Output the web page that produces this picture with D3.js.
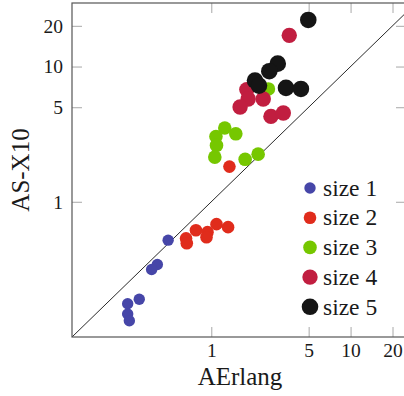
<!DOCTYPE html>
<html>
<head>
<meta charset="utf-8">
<script src="https://cdn.jsdelivr.net/npm/d3@7"></script>
<style>
  body { margin: 0; background: #fff; }
  text { font-family: 'Liberation Serif', serif; fill: #1a1a1a; }
</style>
</head>
<body>
<script>
// series names, colours and tick values
var seriesNames = ["size 1", "size 2", "size 3", "size 4", "size 5"];
var seriesColors = ["#4646a8", "#e02c1c", "#76c700", "#c11e40", "#151515"];
var seriesRadius = [5.7, 6.3, 6.8, 7.7, 8.3];
var xTicks = [1, 5, 10, 20];
var yTicks = [1, 5, 10, 20];

// points (AErlang, AS-X10)
var size1X = [0.49, 0.41, 0.373, 0.304, 0.251, 0.251, 0.258];
var size1Y = [0.52, 0.344, 0.316, 0.19, 0.176, 0.148, 0.132];
var size2X = [0.659, 0.667, 0.776, 0.939, 0.924, 1.09, 1.32, 1.35];
var size2Y = [0.536, 0.494, 0.616, 0.596, 0.547, 0.683, 0.649, 1.82];
var size3X = [1.25, 1.5, 1.08, 1.09, 1.06, 1.75, 2.17, 2.57];
var size3Y = [3.51, 3.18, 3.04, 2.61, 2.14, 2.06, 2.25, 6.83];
var size4X = [3.63, 1.8, 1.84, 1.61, 2.36, 2.68, 3.29];
var size4Y = [17.0, 6.75, 5.75, 5.02, 5.75, 4.28, 4.53];
var size5X = [4.97, 3.0, 2.61, 2.06, 2.2, 3.44, 4.4];
var size5Y = [22.1, 10.5, 9.23, 7.87, 7.23, 6.95, 6.83];

var seriesX = [size1X, size2X, size3X, size4X, size5X];
var seriesY = [size1Y, size2Y, size3Y, size4Y, size5Y];

var W = 404, H = 396;
var plot = {left: 72, right: 406, top: 3, bottom: 337};

var svg = d3.select("body")
  .append("svg")
  .attr("width", W)
  .attr("height", H);

var x = d3.scaleLog().domain([0.1, 25]).range([plot.left, plot.right]);
var y = d3.scaleLog().domain([0.1, 29.5]).range([plot.bottom, plot.top]);

svg.append("clipPath")
  .attr("id", "clip")
  .append("rect")
  .attr("x", plot.left)
  .attr("y", plot.top)
  .attr("width", plot.right - plot.left)
  .attr("height", plot.bottom - plot.top);

// axes, ticks point inwards
function styleAxis(g) {
  g.attr("font-family", "'Liberation Serif', serif");
  g.select(".domain").remove();
  g.selectAll(".tick line").attr("stroke", "#a8a8a8").attr("stroke-width", 1);
  g.selectAll(".tick text")
    .style("font-family", "'Liberation Serif', serif")
    .style("font-size", "19.5px")
    .attr("fill", "#1a1a1a");
}

svg.append("g")
  .attr("transform", "translate(0," + plot.bottom + ")")
  .call(d3.axisBottom(x).tickValues(xTicks).tickSize(-10).tickPadding(6).tickFormat(d3.format("d")))
  .call(styleAxis);

svg.append("g")
  .attr("transform", "translate(0," + plot.top + ")")
  .call(d3.axisTop(x).tickValues(xTicks).tickSize(-10).tickFormat(""))
  .call(styleAxis);

svg.append("g")
  .attr("transform", "translate(" + plot.left + ",0)")
  .call(d3.axisLeft(y).tickValues(yTicks).tickSize(-10).tickPadding(9).tickFormat(d3.format("d")))
  .call(styleAxis);

svg.append("g")
  .attr("transform", "translate(" + plot.right + ",0)")
  .call(d3.axisRight(y).tickValues(yTicks).tickSize(-10).tickFormat(""))
  .call(styleAxis);

// y = x line
svg.append("line")
  .attr("clip-path", "url(#clip)")
  .attr("x1", x(0.1)).attr("y1", y(0.1))
  .attr("x2", x(25)).attr("y2", y(25))
  .attr("stroke", "#111")
  .attr("stroke-width", 0.9);

// points
seriesNames.forEach(function (name, i) {
  var pts = seriesX[i].map(function (v, j) { return [v, seriesY[i][j]]; });
  svg.append("g")
    .selectAll("circle")
    .data(pts)
    .enter()
    .append("circle")
    .attr("cx", function (d) { return x(d[0]); })
    .attr("cy", function (d) { return y(d[1]); })
    .attr("r", seriesRadius[i])
    .attr("fill", seriesColors[i]);
});

// frame
svg.append("rect")
  .attr("x", plot.left)
  .attr("y", plot.top)
  .attr("width", plot.right - plot.left)
  .attr("height", plot.bottom - plot.top)
  .attr("fill", "none")
  .attr("stroke", "#555")
  .attr("stroke-width", 1.2);

// legend
var legend = svg.append("g").attr("transform", "translate(310,188)");
var rows = legend.selectAll("g")
  .data(seriesNames)
  .enter()
  .append("g")
  .attr("transform", function (d, i) { return "translate(0," + i * 29.7 + ")"; });
rows.append("circle")
  .attr("r", function (d, i) { return seriesRadius[i]; })
  .attr("fill", function (d, i) { return seriesColors[i]; });
rows.append("text")
  .attr("x", 13)
  .attr("dy", "0.33em")
  .style("font-size", "23.5px")
  .text(function (d) { return d; });

// axis labels
svg.append("text")
  .attr("x", 240)
  .attr("y", 385)
  .attr("text-anchor", "middle")
  .style("font-size", "25px")
  .text("AErlang");

svg.append("text")
  .attr("transform", "translate(29,170) rotate(-90)")
  .attr("text-anchor", "middle")
  .style("font-size", "25px")
  .text("AS-X10");
</script>
</body>
</html>
